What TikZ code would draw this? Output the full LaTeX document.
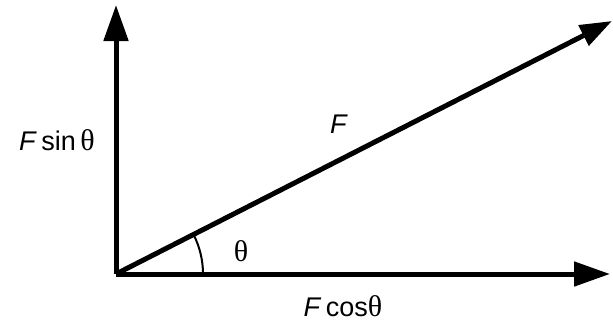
\documentclass[tikz,border=0pt]{standalone}
\usepackage{fontspec}
\setmainfont{Liberation Sans}
\newfontfamily\thetafont{Liberation Serif}
\usetikzlibrary{arrows.meta}
\newcommand{\thsym}{{\thetafont\fontsize{30}{32}\selectfont θ}}
\begin{document}
\begin{tikzpicture}[x=1pt,y=-1pt,
  vec/.style={line width=5pt,-{Triangle[length=36pt,width=24pt]}},
  lbl/.style={font=\fontsize{27}{30}\selectfont,inner sep=0pt}]
\useasboundingbox (0,0) rectangle (613,322);
\coordinate (O) at (116,274);
\coordinate (V) at (116,5);
\coordinate (H) at (610,274);
\coordinate (D) at (612,21);
\draw[vec] (O) -- (V);
\draw[vec] (O) -- (H);
\draw[vec,-{Triangle[length=32pt,width=22pt]}] (O) -- (D);
\draw[line width=2pt] ([xshift=87pt]O) arc[start angle=0,end angle=27,radius=87pt];
\node[lbl] (fs) at (57,140) {\textit{F}\,sin\,\thsym};
\node[lbl] (f) at (339,124) {\textit{F}};
\node[lbl] (th) at (241,251) {\thsym};
\node[lbl] (fc) at (343,306) {\textit{F}\,cos\thsym};
\end{tikzpicture}
\end{document}
